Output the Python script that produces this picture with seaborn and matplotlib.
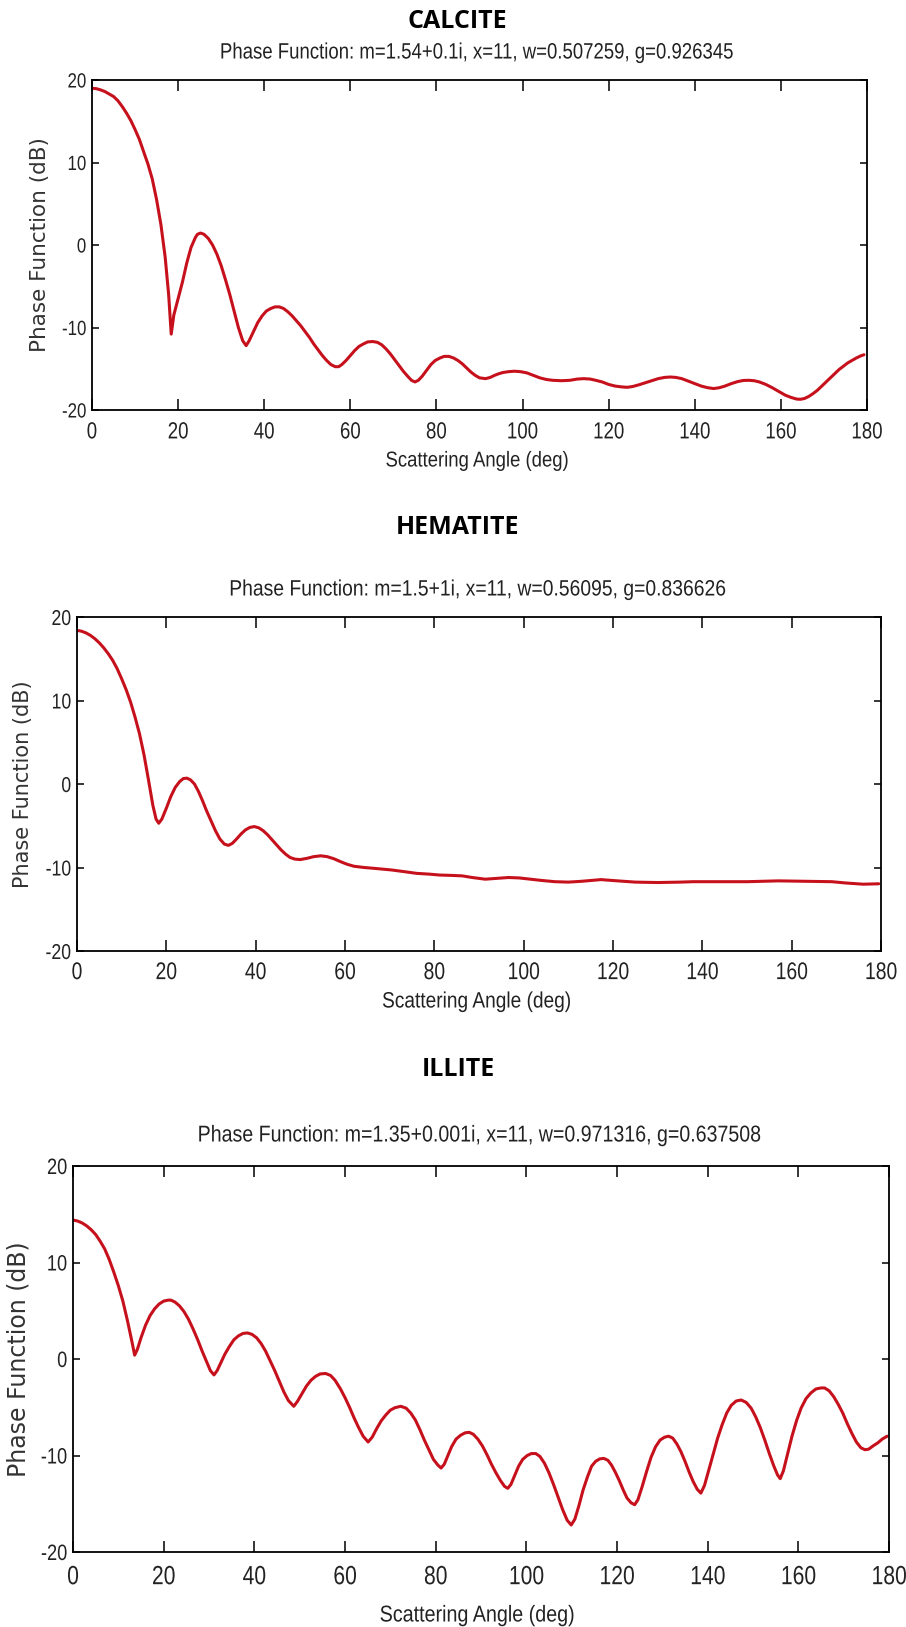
import matplotlib
matplotlib.use("Agg")
import matplotlib.pyplot as plt
import seaborn as sns
from matplotlib import font_manager
from matplotlib.patheffects import AbstractPathEffect
from matplotlib.transforms import Affine2D

# ---------------- data ----------------
calcite_angle = [0, 1, 2, 3, 4, 5, 6, 7, 8, 9, 10, 11, 12, 13, 14, 15, 16, 17, 17.8, 18.4, 19, 20,
                 21, 22, 23, 24, 24.5, 25.2, 26, 27, 28, 29, 30, 31, 32, 33, 34, 35, 35.8, 36.5,
                 37.5, 38.5, 39.5, 40.5, 41.5, 42.5, 43.5, 44.5, 45.5, 46.5, 47.5, 48.5, 49.5,
                 50.5, 51.5, 52.5, 53.5, 54.5, 55.5, 56.5, 57.3, 58, 59, 60, 61, 62, 63, 64,
                 65.2, 66.3, 67.3, 68.3, 69.3, 70.3, 71.3, 72.3, 73.3, 74.2, 75, 75.8, 76.7,
                 77.7, 78.7, 79.7, 80.8, 81.8, 82.9, 84, 85, 86, 87, 88, 89, 90, 91.4, 92.5,
                 93.5, 94.5, 95.5, 96.8, 98.1, 99.5, 101, 102.5, 104, 105.5, 107, 109, 111,
                 112.7, 114.2, 115.7, 117, 118.5, 120, 121.5, 123, 124.3, 125.6, 127, 128.5,
                 130, 131.5, 133, 134.3, 135.6, 137, 138.5, 140, 141.5, 143, 144.4, 145.7, 147,
                 148.5, 150, 151.3, 152.5, 153.8, 155, 156.5, 158, 159.5, 161, 162.5, 163.7,
                 164.6, 165.5, 166.5, 167.5, 168.5, 169.5, 170.5, 171.5, 172.5, 173.5, 174.5,
                 175.5, 176.5, 177.5, 178.5, 179.3]
calcite_db = [19.0, 18.95, 18.8, 18.6, 18.3, 18.0, 17.5, 16.8, 16.0, 15.1, 14.0, 12.8, 11.3,
              9.8, 8.0, 5.5, 2.5, -1.5, -6.0, -10.8, -8.5, -6.5, -4.5, -2.2, -0.3, 0.9, 1.3,
              1.45, 1.3, 0.8, 0.0, -1.1, -2.5, -4.2, -6.0, -8.0, -10.0, -11.6, -12.2, -11.6,
              -10.5, -9.4, -8.6, -8.0, -7.7, -7.5, -7.5, -7.7, -8.1, -8.6, -9.2, -9.8, -10.5,
              -11.2, -12.0, -12.7, -13.4, -14.0, -14.5, -14.75, -14.75, -14.5, -14.0, -13.4,
              -12.8, -12.3, -12.0, -11.75, -11.7, -11.8, -12.1, -12.6, -13.2, -13.9, -14.6,
              -15.3, -15.9, -16.4, -16.6, -16.4, -15.9, -15.2, -14.5, -14.0, -13.7, -13.5,
              -13.5, -13.7, -14.0, -14.4, -14.9, -15.4, -15.8, -16.1, -16.2, -16.05, -15.8,
              -15.6, -15.45, -15.35, -15.3, -15.35, -15.5, -15.8, -16.1, -16.3, -16.4,
              -16.45, -16.4, -16.25, -16.2, -16.25, -16.4, -16.6, -16.9, -17.1, -17.2,
              -17.25, -17.15, -16.95, -16.7, -16.45, -16.2, -16.05, -16.0, -16.05, -16.2,
              -16.5, -16.8, -17.1, -17.3, -17.4, -17.3, -17.1, -16.8, -16.55, -16.42, -16.4,
              -16.45, -16.6, -16.9, -17.3, -17.75, -18.2, -18.5, -18.68, -18.7, -18.6,
              -18.35, -18.0, -17.6, -17.1, -16.6, -16.1, -15.6, -15.1, -14.7, -14.3, -14.0,
              -13.7, -13.45, -13.3]

hematite_angle = [0, 1, 2, 3, 4, 5, 6, 7, 8, 9, 10, 11, 12, 13, 14, 15, 16, 17, 17.7, 18.3, 19,
                  20, 21, 22, 23, 23.8, 24.6, 25.4, 26.3, 27.2, 28.1, 29, 30, 31, 32, 33, 33.9,
                  34.8, 35.7, 36.7, 37.7, 38.7, 39.7, 40.7, 41.7, 42.7, 43.7, 44.7, 45.7, 46.7,
                  47.7, 48.8, 50, 51.5, 53, 54.6, 56, 57.5, 59, 60.4, 62, 64.3, 66.5, 68.5,
                  70.5, 73.3, 76, 79, 81.1, 84, 86.2, 88.5, 91.4, 94, 96.6, 99, 101.5, 104,
                  107, 110, 113, 117.3, 121, 125, 130, 135, 138, 145, 150, 157, 163, 169, 172,
                  176, 179.5]
hematite_db = [18.4, 18.3, 18.1, 17.8, 17.4, 16.9, 16.3, 15.6, 14.8, 13.8, 12.6, 11.3, 9.8,
               8.0, 6.0, 3.5, 0.5, -2.6, -4.2, -4.7, -4.2, -2.9, -1.5, -0.4, 0.3, 0.65, 0.7,
               0.5, 0.0, -0.9, -2.0, -3.2, -4.4, -5.6, -6.6, -7.2, -7.35, -7.1, -6.6, -6.0,
               -5.5, -5.2, -5.1, -5.25, -5.6, -6.1, -6.7, -7.3, -7.9, -8.4, -8.8, -9.0, -9.05,
               -8.9, -8.7, -8.6, -8.7, -8.95, -9.3, -9.6, -9.85, -10.0, -10.1, -10.2, -10.3,
               -10.5, -10.7, -10.8, -10.9, -10.95, -11.0, -11.2, -11.4, -11.3, -11.2, -11.25,
               -11.4, -11.55, -11.7, -11.75, -11.65, -11.45, -11.6, -11.75, -11.8, -11.75,
               -11.7, -11.7, -11.7, -11.6, -11.65, -11.7, -11.85, -12.0, -11.95]

illite_angle = [0, 1, 2, 3, 4, 5, 6, 7, 8, 9, 10, 11, 12, 13, 13.6, 14.2, 15, 16, 17, 18, 19,
                20, 21, 21.6, 22.5, 23.5, 24.5, 25.5, 26.5, 27.5, 28.5, 29.5, 30.3, 31.1, 31.8,
                32.6, 33.5, 34.5, 35.5, 36.5, 37.5, 38.5, 39.5, 40.5, 41.5, 42.5, 43.5, 44.5,
                45.5, 46.5, 47.5, 48.7, 49.5, 50.5, 51.5, 52.5, 53.5, 54.5, 55.7, 56.8, 57.8,
                59, 60, 61, 62, 63, 64, 65.1, 66, 67, 68, 69, 70, 71, 72.3, 73.5, 74.5, 75.5,
                76.5, 77.5, 78.5, 79.5, 80.5, 81.2, 81.9, 82.7, 83.5, 84.5, 85.5, 86.5, 87.4,
                88.3, 89.3, 90.3, 91.3, 92.3, 93.3, 94.3, 95.2, 95.9, 96.6, 97.4, 98.3, 99.2,
                100.2, 101.1, 102.1, 103, 104, 105, 106, 107, 108, 109, 109.9, 110.7, 111.6,
                112.5, 113.5, 114.4, 115.3, 116.2, 117.1, 118, 118.8, 119.7, 120.5, 121.4,
                122.2, 123.1, 123.9, 124.6, 125.5, 126.5, 127.5, 128.5, 129.5, 130.5, 131.4,
                132.3, 133.2, 134.1, 135, 135.9, 136.8, 137.7, 138.5, 139.3, 140.2, 141.2,
                142.2, 143.2, 144.2, 145.2, 146.3, 147.4, 148.5, 149.6, 150.6, 151.6, 152.6,
                153.6, 154.6, 155.4, 156, 156.7, 157.6, 158.6, 159.6, 160.6, 161.7, 162.8,
                163.9, 165, 165.8, 166.8, 167.8, 168.8, 169.8, 170.8, 171.8, 172.8, 173.8,
                174.7, 175.5, 176.5, 177.5, 178.5, 179.6]
illite_db = [14.4, 14.3, 14.1, 13.8, 13.4, 12.9, 12.2, 11.4, 10.3, 9.0, 7.6, 6.0, 4.0, 1.8,
             0.4, 1.0, 2.2, 3.5, 4.5, 5.2, 5.7, 6.0, 6.1, 6.1, 5.9, 5.5, 4.9, 4.1, 3.1, 2.0,
             0.8, -0.3, -1.2, -1.65, -1.2, -0.4, 0.5, 1.3, 2.0, 2.4, 2.65, 2.7, 2.55, 2.2,
             1.6, 0.8, -0.2, -1.2, -2.3, -3.4, -4.3, -4.9, -4.4, -3.6, -2.8, -2.2, -1.8,
             -1.55, -1.5, -1.7, -2.2, -3.1, -4.0, -5.0, -6.1, -7.1, -8.0, -8.6, -8.1, -7.2,
             -6.4, -5.8, -5.3, -5.05, -4.9, -5.1, -5.6, -6.3, -7.3, -8.4, -9.4, -10.4,
             -11.0, -11.3, -10.9, -10.0, -9.1, -8.3, -7.9, -7.65, -7.6, -7.8, -8.3, -9.0,
             -9.9, -10.9, -11.8, -12.6, -13.2, -13.4, -13.0, -12.1, -11.1, -10.4, -10.0,
             -9.8, -9.8, -10.1, -10.8, -11.8, -13.0, -14.3, -15.6, -16.7, -17.2, -16.6,
             -15.2, -13.6, -12.2, -11.1, -10.6, -10.35, -10.3, -10.5, -11.0, -11.8, -12.6,
             -13.6, -14.4, -14.9, -15.1, -14.6, -13.3, -11.7, -10.2, -9.1, -8.4, -8.1, -8.0,
             -8.2, -8.8, -9.6, -10.6, -11.7, -12.7, -13.5, -13.9, -13.1, -11.6, -9.9, -8.2,
             -6.8, -5.6, -4.8, -4.35, -4.25, -4.5, -5.1, -6.0, -7.1, -8.4, -9.8, -11.1,
             -12.0, -12.4, -11.6, -9.9, -8.0, -6.4, -5.1, -4.1, -3.5, -3.1, -3.0, -3.0,
             -3.3, -3.9, -4.7, -5.6, -6.7, -7.7, -8.6, -9.2, -9.4, -9.35, -9.0, -8.7, -8.3,
             -8.0]

materials = ["CALCITE", "HEMATITE", "ILLITE"]
subtitles = ["Phase Function: m=1.54+0.1i, x=11, w=0.507259, g=0.926345",
             "Phase Function: m=1.5+1i, x=11, w=0.56095, g=0.836626",
             "Phase Function: m=1.35+0.001i, x=11, w=0.971316, g=0.637508"]
x_ticks = [0, 20, 40, 60, 80, 100, 120, 140, 160, 180]
y_ticks = [-20, -10, 0, 10, 20]
x_label = "Scattering Angle (deg)"
y_label = "Phase Function (dB)"


class Narrow(AbstractPathEffect):
    """Horizontally condense glyph outlines (imitates the narrow screen font)."""

    def __init__(self, sx=0.82, anchor="center"):
        super().__init__()
        self.sx = sx
        self.anchor = anchor

    def draw_path(self, renderer, gc, tpath, affine, rgbFace=None):
        ext = tpath.get_extents()
        if self.anchor == "right":
            cx = ext.x1
        elif self.anchor == "left":
            cx = ext.x0
        else:
            cx = 0.5 * (ext.x0 + ext.x1)
        t = Affine2D().translate(-cx, 0).scale(self.sx, 1.0).translate(cx, 0) + affine
        renderer.draw_path(gc, tpath, t, rgbFace)


# ---------------- style ----------------
sns.set_style("white")
names = {f.name for f in font_manager.fontManager.ttflist}
SANS = "Liberation Sans" if "Liberation Sans" in names else "DejaVu Sans"
plt.rcParams["font.family"] = ["DejaVu Sans"]

W, H = 906, 1627
fig = plt.figure(figsize=(W / 100, H / 100), dpi=100)
fig.patch.set_facecolor("white")

# pixel boxes: x0, x1, y0(top), y1(bottom)
boxes = [(92, 867, 80, 410), (77, 881, 617, 951), (73, 889, 1166, 1552)]
title_pos = [(457, 21), (457, 527), (458, 1069)]
sub_pos = [(477, 53), (478, 590), (479, 1135)]
xtick_fs = [16.8, 17.4, 19.0]
ytick_fs = [14.8, 15.5, 16.0]
xtick_pad = [7.5, 8.0, 9.5]
sub_fs = [16, 16, 16.5]
sub_sx = [0.836, 0.87, 0.855]
xlab_fs = [15.5, 16, 16.5]
xlab_y = [461, 1002, 1615]
ylab_fs = [15.5, 15, 17]

series = [(calcite_angle, calcite_db), (hematite_angle, hematite_db), (illite_angle, illite_db)]
LINE = "#c6111c"
TXT = "#222222"

for i, (x0, x1, y0, y1) in enumerate(boxes):
    ax = fig.add_axes([x0 / W, 1 - y1 / H, (x1 - x0) / W, (y1 - y0) / H])
    xs, ys = series[i]
    sns.lineplot(x=xs, y=ys, ax=ax, color=LINE, linewidth=2.2, sort=False)
    ax.set_xlim(0, 180)
    ax.set_ylim(-20, 20)
    ax.set_xticks(x_ticks)
    ax.set_yticks(y_ticks)
    xl = ax.set_xticklabels([str(v) for v in x_ticks], family=SANS, fontsize=xtick_fs[i])
    yl = ax.set_yticklabels([str(v) for v in y_ticks], family=SANS, fontsize=ytick_fs[i])
    for t in xl:
        t.set_path_effects([Narrow(0.8, "center")])
    for t in yl:
        t.set_path_effects([Narrow(0.82, "right")])
    ax.tick_params(axis="x", direction="in", length=8, width=1.1, top=True, bottom=True,
                   pad=xtick_pad[i], colors="black")
    ax.tick_params(axis="y", direction="in", length=5, width=1.1, left=True, right=True,
                   pad=4, colors="black")
    ax.tick_params(axis="both", labelcolor=TXT)
    for s in ax.spines.values():
        s.set_visible(True)
        s.set_color("black")
        s.set_linewidth(1.3)
    xlab = ax.set_xlabel(x_label, family=SANS, fontsize=xlab_fs[i], color=TXT, va="center")
    xlab.set_path_effects([Narrow(0.86, "center")])
    ax.xaxis.set_label_coords((477 - x0) / (x1 - x0), -(xlab_y[i] - y1) / (y1 - y0))
    ax.set_ylabel(y_label, family="DejaVu Sans", fontsize=ylab_fs[i], color="#333333", va="center")
    ax.yaxis.set_label_coords(-0.067, 0.5)

    tx, ty = title_pos[i]
    fig.text(tx / W, 1 - ty / H, materials[i], family="Open Sans", fontweight="bold",
             fontsize=18, ha="center", va="center", color="black")
    sx, sy = sub_pos[i]
    st = fig.text(sx / W, 1 - sy / H, subtitles[i], family=SANS, fontsize=sub_fs[i],
                  ha="center", va="center", color=TXT)
    st.set_path_effects([Narrow(sub_sx[i], "center")])

fig.savefig("out.png", dpi=100, facecolor="white")
